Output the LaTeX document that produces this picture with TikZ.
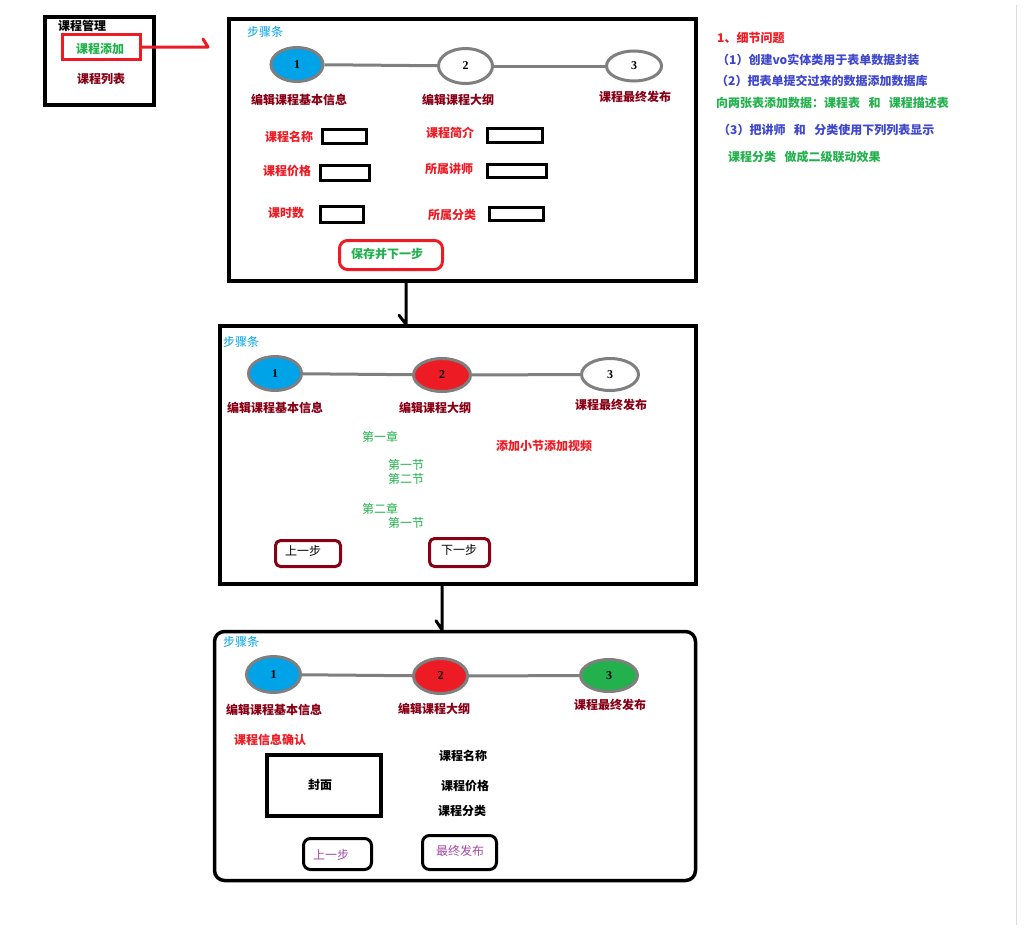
\documentclass[tikz,border=0pt]{standalone}
\usepackage{fontspec}
\newfontfamily\cjk{Noto Sans CJK SC}
\newfontfamily\digitfont{Liberation Serif}
\usetikzlibrary{shapes.geometric}
\definecolor{dred}{HTML}{880015}
\definecolor{pred}{HTML}{ED1C24}
\definecolor{pgreen}{HTML}{22B14C}
\definecolor{pblue}{HTML}{00A2E8}
\definecolor{nblue}{HTML}{3F48CC}
\definecolor{ppurple}{HTML}{A349A4}
\definecolor{sgray}{HTML}{7F7F7F}
\definecolor{lgray}{HTML}{DCDCDC}
\newcommand{\wsp}{\hspace{0.7em}}
\begin{document}
\begin{tikzpicture}[x=1pt,y=-1pt,
  every node/.style={inner sep=0pt, font=\cjk\fontsize{12}{14}\selectfont},
  bf/.style={font=\cjk\bfseries\fontsize{12}{14}\selectfont},
  panel/.style={draw=black, line width=3.5pt},
  stepc/.style={ellipse, draw=sgray, line width=3pt, fill=white, font=\digitfont\bfseries\fontsize{12}{14}\selectfont},
  steplink/.style={draw=sgray, line width=3pt},
  field/.style={draw=black, line width=3pt},
  steplbl/.style={bf, text=dred},
  formlbl/.style={bf, text=pred},
  hookline/.style={line width=3pt, line cap=round, line join=round},
  note/.style={bf, anchor=west}
]
\useasboundingbox (0,0) rectangle (1033,929);
\fill[white] (0,0) rectangle (1033,929);

% right faint separator
\coordinate (g1) at (1016,5);
\coordinate (g2) at (1016,925);
\draw[lgray, line width=1pt] (g1) -- (g2);

% ---------------- menu ----------------
\node[draw=black, line width=4pt, minimum width=109pt, minimum height=88pt] (menu) at (99.5,61) {};
\node[bf, anchor=center] (menutitle) at (82,26) {课程管理};
\node[draw=pred, line width=3pt, minimum width=78pt, minimum height=25pt] (addbox) at (101.5,47) {};
\node[bf, text=pgreen] (addtxt) at (100,49) {课程添加};
\node[bf, text=dred] (listtxt) at (101,79) {课程列表};
\coordinate (ra) at (208,47);
\draw[hookline, draw=pred] (addbox.east) -- (ra) -- ++(-5,-8);

% ---------------- panel 1 ----------------
\node[panel, minimum width=467pt, minimum height=262pt] (p1) at (462.5,150) {};
\node[text=pblue, anchor=west] (p1t) at (247,32) {步骤条};
\node[stepc, fill=pblue, minimum width=52pt, minimum height=34pt] (a1) at (297,64.5) {1};
\node[stepc, minimum width=54pt, minimum height=35pt] (a2) at (465.5,66) {2};
\node[stepc, minimum width=55pt, minimum height=30pt] (a3) at (634,66) {3};
\draw[steplink] (a1) -- (a2);
\draw[steplink] (a2) -- (a3);
\node[steplbl] (a1l) at (299,100) {编辑课程基本信息};
\node[steplbl] (a2l) at (458,100) {编辑课程大纲};
\node[steplbl] (a3l) at (635,97) {课程最终发布};

\node[formlbl] (l1) at (289,137) {课程名称};
\node[field, minimum width=44pt, minimum height=14pt] (f1) at (344.5,136.5) {};
\node[formlbl] (l2) at (287,171) {课程价格};
\node[field, minimum width=49pt, minimum height=15pt] (f2) at (345,173) {};
\node[formlbl] (l3) at (286,213) {课时数};
\node[field, minimum width=43pt, minimum height=16pt] (f3) at (342,214.5) {};
\node[formlbl] (l4) at (450,133) {课程简介};
\node[field, minimum width=55pt, minimum height=14pt] (f4) at (515,135.5) {};
\node[formlbl] (l5) at (449,169) {所属讲师};
\node[field, minimum width=59pt, minimum height=13pt] (f5) at (517,171) {};
\node[formlbl] (l6) at (452,215) {所属分类};
\node[field, minimum width=54pt, minimum height=13pt] (f6) at (516.5,214) {};

\node[draw=pred, line width=3pt, rounded corners=8pt, minimum width=103pt, minimum height=29pt] (save) at (391,255) {};
\node[bf, text=pgreen] (savet) at (387,254) {保存并下一步};

% ---------------- panel 2 ----------------
\node[panel, minimum width=476pt, minimum height=258pt] (p2) at (458,455) {};
\node[text=pblue, anchor=west] (p2t) at (223,342) {步骤条};
\node[stepc, fill=pblue, minimum width=53pt, minimum height=34pt] (b1) at (275,373.5) {1};
\node[stepc, fill=pred, minimum width=57pt, minimum height=33pt] (b2) at (442,375) {2};
\node[stepc, minimum width=57pt, minimum height=32pt] (b3) at (610,374.5) {3};
\draw[steplink] (b1) -- (b2);
\draw[steplink] (b2) -- (b3);
\node[steplbl] (b1l) at (275,408) {编辑课程基本信息};
\node[steplbl] (b2l) at (435,408) {编辑课程大纲};
\node[steplbl] (b3l) at (611,405) {课程最终发布};

\node[text=pgreen] (ch1) at (380,437) {第一章};
\node[text=pgreen] (s11) at (406,465) {第一节};
\node[text=pgreen] (s12) at (406,479) {第二节};
\node[text=pgreen] (ch2) at (380,509) {第二章};
\node[text=pgreen] (s21) at (406,523) {第一节};
\node[bf, text=pred] (addsec) at (544,446) {添加小节添加视频};

\node[draw=dred, line width=3pt, rounded corners=5pt, minimum width=65pt, minimum height=26pt] (prev2) at (308,553.5) {};
\node (prev2t) at (303,551) {上一步};
\node[draw=dred, line width=3pt, rounded corners=5pt, minimum width=60pt, minimum height=28pt] (next2) at (459.5,552.5) {};
\node (next2t) at (459,550) {下一步};

% ---------------- panel 3 ----------------
\node[panel, rounded corners=10pt, minimum width=481pt, minimum height=249pt] (p3) at (455,756) {};
\node[text=pblue, anchor=west] (p3t) at (223,642) {步骤条};
\node[stepc, fill=pblue, minimum width=54pt, minimum height=36pt] (c1) at (273.5,674.5) {1};
\node[stepc, fill=pred, minimum width=54pt, minimum height=35pt] (c2) at (440.5,676) {2};
\node[stepc, fill=pgreen, minimum width=57pt, minimum height=32pt] (c3) at (609,675.5) {3};
\draw[steplink] (c1) -- (c2);
\draw[steplink] (c2) -- (c3);
\node[steplbl] (c1l) at (274,710) {编辑课程基本信息};
\node[steplbl] (c2l) at (434,709) {编辑课程大纲};
\node[steplbl] (c3l) at (610,705) {课程最终发布};

\node[bf, text=pred] (confirm) at (270,740) {课程信息确认};
\node[draw=black, line width=3.5pt, minimum width=114pt, minimum height=61pt] (cover) at (324,785.5) {};
\node[bf] (covert) at (320,785) {封面};
\node[bf] (i1) at (463,756) {课程名称};
\node[bf] (i2) at (465,786) {课程价格};
\node[bf] (i3) at (462,811) {课程分类};

\node[draw=black, line width=3pt, rounded corners=7pt, minimum width=68pt, minimum height=31pt] (prev3) at (337.5,854) {};
\node[text=ppurple] (prev3t) at (331,855) {上一步};
\node[draw=black, line width=3pt, rounded corners=7pt, minimum width=74pt, minimum height=34pt] (pub) at (459.5,852.5) {};
\node[text=ppurple] (pubt) at (460,851) {最终发布};

% ---------------- connectors ----------------
\coordinate (ax1) at (406,0);
\draw[hookline] (p1.south -| ax1) -- (p2.north -| ax1) -- ++(-7,-9);
\coordinate (ax2) at (442,0);
\draw[hookline] (p2.south -| ax2) -- (p3.north -| ax2) -- ++(-6,-9);

% ---------------- notes ----------------
\node[note, text=pred] (n0) at (717,38) {1、细节问题};
\node[note, text=nblue] (n1) at (717,60) {（1）创建vo实体类用于表单数据封装};
\node[note, text=nblue] (n2) at (716,81) {（2）把表单提交过来的数据添加数据库};
\node[note, text=pgreen] (n3) at (716,103) {向两张表添加数据：课程表\wsp 和\wsp 课程描述表};
\node[note, text=nblue] (n4) at (718,130) {（3）把讲师\wsp 和\wsp 分类使用下列列表显示};
\node[note, text=pgreen] (n5) at (728,157) {课程分类\wsp 做成二级联动效果};
\end{tikzpicture}
\end{document}
